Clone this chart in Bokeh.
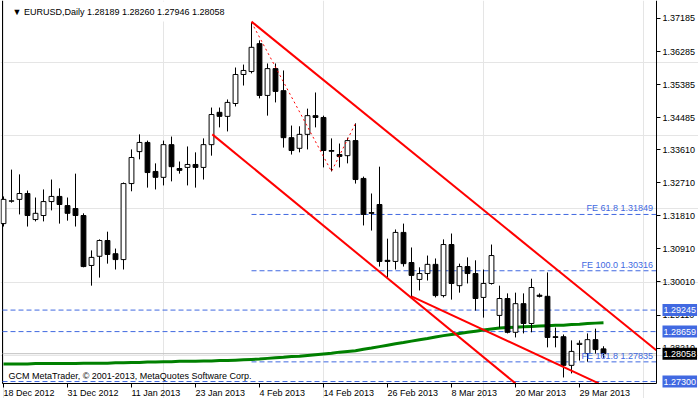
from bokeh.plotting import figure
from bokeh.models import (Range1d, FixedTicker, Label, NumeralTickFormatter,
                          ColumnDataSource, LinearAxis)
from bokeh.embed import file_html
from bokeh.resources import INLINE

# ---- data ----
opens = [1.3160, 1.3221, 1.3226, 1.3242, 1.3171, 1.3182, 1.3220, 1.3234, 1.3209, 1.3201,
         1.3182, 1.3046, 1.3071, 1.3114, 1.3078, 1.3062, 1.3269, 1.3356, 1.3381, 1.3302,
         1.3286, 1.3375, 1.3310, 1.3313, 1.3321, 1.3313, 1.3375, 1.3463, 1.3452, 1.3487,
         1.3566, 1.3574, 1.3650, 1.3509, 1.3582, 1.3522, 1.3394, 1.3365, 1.3403, 1.3454,
         1.3449, 1.3359, 1.3348, 1.3345, 1.3386, 1.3283, 1.3190, 1.3212, 1.3060, 1.3057,
         1.3136, 1.3054, 1.3008, 1.3024, 1.3049, 1.2964, 1.3103, 1.2991, 1.3043, 1.3024,
         1.2959, 1.2997, 1.2910, 1.2956, 1.2864, 1.2942, 1.2888, 1.2965, 1.2962, 1.2852,
         1.2852, 1.2774, 1.2831, 1.2806, 1.2844, 1.28189]
highs = [1.3234, 1.3307, 1.3294, 1.3250, 1.3231, 1.3253, 1.3280, 1.3256, 1.3231, 1.3296,
         1.3188, 1.3087, 1.3117, 1.3138, 1.3092, 1.3272, 1.3362, 1.3403, 1.3386, 1.3324,
         1.3386, 1.3397, 1.3329, 1.3370, 1.3354, 1.3392, 1.3476, 1.3476, 1.3498, 1.3585,
         1.3593, 1.3708, 1.3659, 1.3596, 1.3596, 1.3577, 1.3427, 1.3425, 1.3473, 1.3517,
         1.3454, 1.3392, 1.3378, 1.3394, 1.3433, 1.3288, 1.3242, 1.3315, 1.3119, 1.3144,
         1.3160, 1.3095, 1.3041, 1.3073, 1.3065, 1.3117, 1.3133, 1.3051, 1.3068, 1.3060,
         1.3035, 1.3103, 1.2991, 1.2970, 1.2972, 1.2970, 1.3010, 1.2970, 1.3027, 1.2877,
         1.2858, 1.2842, 1.2842, 1.2861, 1.2874, 1.28260]
lows = [1.3152, 1.3217, 1.3185, 1.3152, 1.3166, 1.3166, 1.3196, 1.3160, 1.3168, 1.3152,
        1.3041, 1.2991, 1.3013, 1.3051, 1.3035, 1.3035, 1.3248, 1.3335, 1.3258, 1.3253,
        1.3264, 1.3275, 1.3296, 1.3264, 1.3258, 1.3280, 1.3345, 1.3422, 1.3411, 1.3479,
        1.3536, 1.3569, 1.3501, 1.3454, 1.3490, 1.3367, 1.3348, 1.3354, 1.3362, 1.3422,
        1.3313, 1.3302, 1.3313, 1.3324, 1.3269, 1.3155, 1.3141, 1.3043, 1.3013, 1.3035,
        1.3043, 1.2959, 1.2978, 1.3005, 1.2959, 1.2959, 1.2953, 1.2972, 1.2997, 1.2923,
        1.2904, 1.2994, 1.2877, 1.2861, 1.2850, 1.2861, 1.2864, 1.2959, 1.2823, 1.2823,
        1.2741, 1.2752, 1.2787, 1.2784, 1.2806, 1.27946]
closes = [1.3226, 1.3222, 1.3242, 1.3182, 1.3188, 1.3220, 1.3234, 1.3212, 1.3188, 1.3182,
          1.3043, 1.3068, 1.3114, 1.3076, 1.3062, 1.3269, 1.3340, 1.3381, 1.3299, 1.3286,
          1.3375, 1.3315, 1.3305, 1.3321, 1.3313, 1.3375, 1.3457, 1.3452, 1.3490, 1.3566,
          1.3577, 1.3640, 1.3509, 1.3582, 1.3520, 1.3394, 1.3359, 1.3403, 1.3454, 1.3449,
          1.3359, 1.3357, 1.3343, 1.3386, 1.3280, 1.3185, 1.3188, 1.3057, 1.3057, 1.3136,
          1.3051, 1.3019, 1.3024, 1.3049, 1.2964, 1.3103, 1.2997, 1.3043, 1.3024, 1.2956,
          1.2997, 1.3073, 1.2956, 1.2864, 1.2942, 1.2888, 1.2986, 1.2962, 1.2850, 1.2850,
          1.2774, 1.2812, 1.2834, 1.2844, 1.2817, 1.28058]
ma200 = [1.2778, 1.2778, 1.2778, 1.2778, 1.2779, 1.2779, 1.2779, 1.2779, 1.2779, 1.2779,
         1.2780, 1.2780, 1.2780, 1.2780, 1.2781, 1.2781, 1.2782, 1.2782, 1.2783, 1.2783,
         1.2784, 1.2784, 1.2785, 1.2785, 1.2785, 1.2786, 1.2786, 1.2787, 1.2787, 1.2788,
         1.2789, 1.2790, 1.2791, 1.2793, 1.2795, 1.2796, 1.2798, 1.2799, 1.2801, 1.2803,
         1.2805, 1.2807, 1.2810, 1.2812, 1.2814, 1.2818, 1.2821, 1.2825, 1.2829, 1.2833,
         1.2836, 1.2840, 1.2844, 1.2847, 1.2851, 1.2855, 1.2858, 1.2861, 1.2864, 1.2867,
         1.2870, 1.2873, 1.2876, 1.2877, 1.2878, 1.2879, 1.2880, 1.2881, 1.2882, 1.2883,
         1.2883, 1.2885, 1.2886, 1.2888, 1.2889, 1.2890]

date_tick_bars = [0, 8, 16, 24, 32, 40, 48, 56, 64, 72]
date_labels = ["18 Dec 2012", "31 Dec 2012", "11 Jan 2013", "23 Jan 2013", "4 Feb 2013",
               "14 Feb 2013", "26 Feb 2013", "8 Mar 2013", "20 Mar 2013", "29 Mar 2013"]
price_ticks = [1.37185, 1.36285, 1.35385, 1.34485, 1.33610, 1.32710, 1.31810,
               1.30910, 1.30010, 1.29110, 1.28210]

# trend lines (bar index, price)
upper_x = [31, 81.6]
upper_y = [1.3710, 1.2815]
lower_x = [26.1, 64.0]
lower_y = [1.3403, 1.2725]
inner_x = [51, 74.4]
inner_y = [1.2962, 1.2725]
zigzag_x = [31, 41, 44]
zigzag_y = [1.3708, 1.3302, 1.3433]

fe_levels = [1.31849, 1.30316, 1.27835]
fe_texts = ["FE 61.8  1.31849", "FE 100.0  1.30316", "FE 161.8  1.27835"]
fe_start_bar = 31
level_lines = [1.29245, 1.28659, 1.27300]
level_texts = ["1.29245", "1.28659", "1.27300"]
bid_price = 1.28058
bid_text = "1.28058"
title_text = "\u25BC EURUSD,Daily  1.28189 1.28260 1.27946 1.28058"
copyright_text = "GCM MetaTrader, \u00A9 2001-2013, MetaQuotes Software Corp."

# ---- layout ----
W, H = 698, 398
AXIS_W, AXIS_H, LEFT_PAD = 42, 15, 2
X_LEFT, X_RIGHT = -0.125, 81.625        # chart border in bar units
Y_BOTTOM, Y_TOP = 1.27246, 1.37675      # chart border in price units
px_per_bar = (W - LEFT_PAD - AXIS_W) / (X_RIGHT - X_LEFT)
px_per_price = (H - AXIS_H) / (Y_TOP - Y_BOTTOM)
x_range = Range1d(X_LEFT - LEFT_PAD / px_per_bar, X_RIGHT + AXIS_W / px_per_bar)
y_range = Range1d(Y_BOTTOM - AXIS_H / px_per_price, Y_TOP)

FONT = "Liberation Sans"
FS = "9px"
BLUE = "#4169E1"

p = figure(width=W, height=H, x_range=x_range, y_range=y_range,
           output_backend="svg", toolbar_location=None,
           x_axis_location=None, y_axis_location=None,
           min_border_left=0, min_border_top=0, min_border_right=0, min_border_bottom=0)
p.background_fill_color = "white"
p.border_fill_color = "white"
p.outline_line_color = None

yaxis = LinearAxis(ticker=FixedTicker(ticks=price_ticks),
                   formatter=NumeralTickFormatter(format="0.00000"),
                   fixed_location=X_RIGHT, bounds=(Y_BOTTOM, Y_TOP))
xaxis = LinearAxis(ticker=FixedTicker(ticks=date_tick_bars),
                   fixed_location=Y_BOTTOM, bounds=(X_LEFT, X_RIGHT),
                   major_label_overrides={b: "" for b in date_tick_bars})
for ax in (xaxis, yaxis):
    ax.axis_line_color = "black"
    ax.axis_line_width = 1
    ax.major_tick_line_color = "black"
    ax.major_tick_out = 4
    ax.major_tick_in = 0
    ax.minor_tick_line_color = None
    ax.major_label_text_font = FONT
    ax.major_label_text_font_size = FS
    ax.major_label_text_color = "black"
    ax.major_label_standoff = 2
p.add_layout(yaxis, "right")
p.add_layout(xaxis, "below")

# left border of the chart
p.segment(x0=[X_LEFT], y0=[Y_BOTTOM], x1=[X_LEFT], y1=[Y_TOP], line_color="black", line_width=1)

# date labels, left-aligned at their ticks
for b, t in zip(date_tick_bars, date_labels):
    p.add_layout(Label(x=b, y=Y_BOTTOM, text=t, text_align="left", text_baseline="top",
                       y_offset=-4, text_color="black", text_font=FONT, text_font_size=FS))

# horizontal dashed levels across the chart
n = len(level_lines)
p.segment(x0=[X_LEFT] * n, y0=level_lines, x1=[X_RIGHT] * n, y1=level_lines,
          line_color=BLUE, line_dash="5 3", line_width=1)
# bid line
p.segment(x0=[X_LEFT], y0=[bid_price], x1=[X_RIGHT], y1=[bid_price],
          line_color="#C0C0C0", line_width=1)
# FE levels
m = len(fe_levels)
p.segment(x0=[fe_start_bar] * m, y0=fe_levels, x1=[X_RIGHT] * m, y1=fe_levels,
          line_color=BLUE, line_dash="5 3", line_width=1)

# moving average
idx = list(range(len(opens)))
p.line(idx, ma200, line_color="#008000", line_width=3)

# candles
src = ColumnDataSource(dict(
    x=idx, o=opens, h=highs, l=lows, c=closes,
    top=[max(a, b) for a, b in zip(opens, closes)],
    bot=[min(a, b) for a, b in zip(opens, closes)],
    fill=["white" if c >= o else "black" for o, c in zip(opens, closes)],
))
p.segment(x0="x", y0="l", x1="x", y1="h", source=src, line_color="black", line_width=1)
p.vbar(x="x", width=0.6, top="top", bottom="bot", source=src,
       fill_color="fill", line_color="black", line_width=1)

# trend lines
p.line(upper_x, upper_y, line_color="#FF0000", line_width=2)
p.line(lower_x, lower_y, line_color="#FF0000", line_width=2)
p.line(inner_x, inner_y, line_color="#FF0000", line_width=2)
p.line(zigzag_x, zigzag_y, line_color="#FF0000", line_width=1, line_dash="2 3")

# FE labels
for lv, t in zip(fe_levels, fe_texts):
    p.add_layout(Label(x=X_RIGHT, y=lv, text=t, text_align="right", text_baseline="bottom",
                       x_offset=-1, y_offset=1, text_color=BLUE,
                       text_font=FONT, text_font_size=FS))

# price boxes on the price scale
for lv, t in zip(level_lines, level_texts):
    p.add_layout(Label(x=X_RIGHT, y=lv, text=t, text_align="left", text_baseline="middle",
                       x_offset=6, text_color="white", background_fill_color=BLUE,
                       text_font=FONT, text_font_size=FS, padding=(1, 3)))
p.add_layout(Label(x=X_RIGHT, y=bid_price, text=bid_text, text_align="left", text_baseline="middle",
                   x_offset=6, text_color="white", background_fill_color="black",
                   text_font=FONT, text_font_size=FS, padding=(1, 3)))

# title and copyright
p.add_layout(Label(x=X_LEFT, y=Y_TOP, text=title_text, text_align="left", text_baseline="middle",
                   x_offset=5, y_offset=-11, text_color="black", background_fill_color="white",
                   text_font=FONT, text_font_size=FS, padding=(5, 5)))
p.add_layout(Label(x=X_LEFT, y=Y_BOTTOM, text=copyright_text, text_align="left",
                   text_baseline="middle", x_offset=6, y_offset=8, text_color="black",
                   text_font=FONT, text_font_size=FS))

open("out.html", "w").write(file_html(p, INLINE))
